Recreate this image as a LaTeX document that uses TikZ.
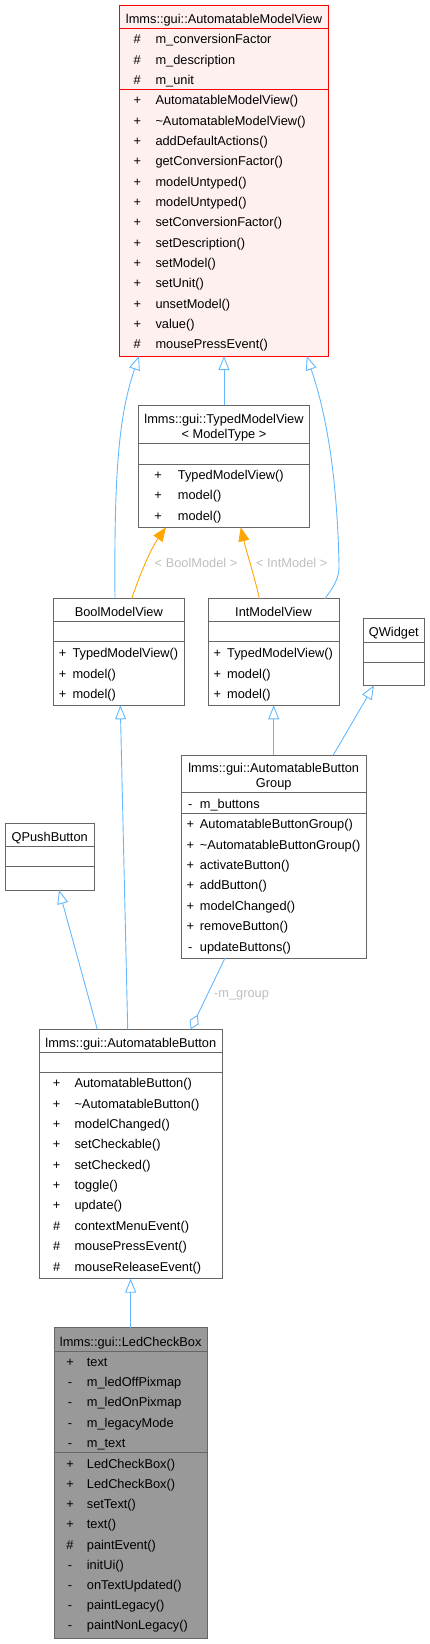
\documentclass[tikz,border=0pt]{standalone}
\usepackage{fontspec}
\setmainfont{Liberation Sans}
\usetikzlibrary{arrows.meta,calc}
\definecolor{boxgray}{HTML}{666666}
\definecolor{edgeblue}{HTML}{63B8FF}
\definecolor{edgeorange}{HTML}{FFA500}
\definecolor{lblgray}{HTML}{BEBEBE}
\definecolor{amvfill}{HTML}{FFF0F0}
\definecolor{lcbfill}{HTML}{999999}
\newcommand\memrows[6]{%
  \foreach \ms/\mt [count=\mi] in {#6} {%
    \node[sgn] (#1s\mi) at ({#2},{#4+#5*(\mi-1)+4.4}) {\ms};
    \node[mem] (#1t\mi) at ({#3},{#4+#5*(\mi-1)+4.4}) {\mt};
  }%
}
\begin{document}
\begin{tikzpicture}[x=1pt,y=-1pt,font=\fontsize{12.8}{15}\selectfont,
  cls/.style={draw=boxgray,line width=1pt,fill=white,anchor=north west,inner sep=0,outer sep=0},
  sepl/.style={draw=boxgray,line width=1pt},
  sgn/.style={anchor=base,inner sep=0},
  mem/.style={anchor=base west,inner sep=0},
  ttl/.style={anchor=base,inner sep=0},
  inh/.style={draw=edgeblue,line width=0.9pt,-{Triangle[open,length=14pt,width=11pt]}},
  tpl/.style={draw=edgeorange,line width=0.9pt,-{Triangle[length=14pt,width=11pt]}},
  agg/.style={draw=edgeblue,line width=0.9pt,-{Diamond[open,length=16pt,width=10pt]}},
  lbl/.style={text=lblgray,inner sep=0}]
\useasboundingbox (0,0) rectangle (429,1644);

% ---------- AutomatableModelView ----------
\node[cls,draw=red,fill=amvfill,minimum width=209.4pt,minimum height=351pt] (amv) at (119.3,5) {};
\draw[draw=red,line width=1pt] ($(amv.north west)+(0,23.7)$) -- ($(amv.north east)+(0,23.7)$);
\draw[draw=red,line width=1pt] ($(amv.north west)+(0,84.3)$) -- ($(amv.north east)+(0,84.3)$);
\node[ttl] (amvtitle) at (224,23.1) {lmms::gui::AutomatableModelView};
\memrows{amva}{137.3}{155.3}{39.3}{20.3}{\#/m\_conversionFactor,\#/m\_description,\#/m\_unit}
\memrows{amvm}{137.3}{155.3}{100.3}{20.33}{+/AutomatableModelView(),+/\textasciitilde AutomatableModelView(),+/addDefaultActions(),+/getConversionFactor(),+/modelUntyped(),+/modelUntyped(),+/setConversionFactor(),+/setDescription(),+/setModel(),+/setUnit(),+/unsetModel(),+/value(),\#/mousePressEvent()}

% ---------- TypedModelView ----------
\node[cls,minimum width=170.6pt,minimum height=122pt] (tmv) at (138.7,405.3) {};
\draw[sepl] ($(tmv.north west)+(0,38)$) -- ($(tmv.north east)+(0,38)$);
\draw[sepl] ($(tmv.north west)+(0,58.7)$) -- ($(tmv.north east)+(0,58.7)$);
\node[ttl] (tmvtitle1) at (224,423.7) {lmms::gui::TypedModelView};
\node[ttl] (tmvtitle2) at (224,438.7) {< ModelType >};
\memrows{tmvm}{158}{177.7}{475}{20.5}{+/TypedModelView(),+/model(),+/model()}

% ---------- BoolModelView ----------
\node[cls,minimum width=131pt,minimum height=106.6pt] (bmv) at (53.3,598.7) {};
\draw[sepl] ($(bmv.north west)+(0,22.6)$) -- ($(bmv.north east)+(0,22.6)$);
\draw[sepl] ($(bmv.north west)+(0,43)$) -- ($(bmv.north east)+(0,43)$);
\node[ttl] (bmvtitle) at (118.8,616.1) {BoolModelView};
\memrows{bmvm}{62.7}{72.3}{653.3}{20.35}{+/TypedModelView(),+/model(),+/model()}

% ---------- IntModelView ----------
\node[cls,minimum width=131pt,minimum height=106.6pt] (imv) at (208,598.7) {};
\draw[sepl] ($(imv.north west)+(0,22.6)$) -- ($(imv.north east)+(0,22.6)$);
\draw[sepl] ($(imv.north west)+(0,43)$) -- ($(imv.north east)+(0,43)$);
\node[ttl] (imvtitle) at (273.5,616.1) {IntModelView};
\memrows{imvm}{217.3}{227}{653.3}{20.35}{+/TypedModelView(),+/model(),+/model()}

% ---------- QWidget ----------
\node[cls,minimum width=61pt,minimum height=66.6pt] (qw) at (363.3,618.7) {};
\draw[sepl] ($(qw.north west)+(0,23.6)$) -- ($(qw.north east)+(0,23.6)$);
\draw[sepl] ($(qw.north west)+(0,43.6)$) -- ($(qw.north east)+(0,43.6)$);
\node[ttl] (qwtitle) at (393.8,636.7) {QWidget};

% ---------- AutomatableButtonGroup ----------
\node[cls,minimum width=185.3pt,minimum height=203pt] (abg) at (181,755) {};
\draw[sepl] ($(abg.north west)+(0,37.7)$) -- ($(abg.north east)+(0,37.7)$);
\draw[sepl] ($(abg.north west)+(0,58.3)$) -- ($(abg.north east)+(0,58.3)$);
\node[ttl] (abgtitle1) at (273.7,772.7) {lmms::gui::AutomatableButton};
\node[ttl] (abgtitle2) at (273.7,787.7) {Group};
\memrows{abga}{190.3}{199.7}{803.7}{20.4}{-/m\_buttons}
\memrows{abgm}{190.3}{199.7}{824.3}{20.4}{+/AutomatableButtonGroup(),+/\textasciitilde AutomatableButtonGroup(),+/activateButton(),+/addButton(),+/modelChanged(),+/removeButton(),-/updateButtons()}

% ---------- QPushButton ----------
\node[cls,minimum width=89.3pt,minimum height=66.7pt] (qpb) at (5,823.3) {};
\draw[sepl] ($(qpb.north west)+(0,23.4)$) -- ($(qpb.north east)+(0,23.4)$);
\draw[sepl] ($(qpb.north west)+(0,43.4)$) -- ($(qpb.north east)+(0,43.4)$);
\node[ttl] (qpbtitle) at (49.7,841.1) {QPushButton};

% ---------- AutomatableButton ----------
\node[cls,minimum width=183pt,minimum height=249.4pt] (ab) at (39.3,1029.3) {};
\draw[sepl] ($(ab.north west)+(0,23)$) -- ($(ab.north east)+(0,23)$);
\draw[sepl] ($(ab.north west)+(0,43)$) -- ($(ab.north east)+(0,43)$);
\node[ttl] (abtitle) at (130.8,1047.1) {lmms::gui::AutomatableButton};
\memrows{abm}{56.7}{74.3}{1083.3}{20.37}{+/AutomatableButton(),+/\textasciitilde AutomatableButton(),+/modelChanged(),+/setCheckable(),+/setChecked(),+/toggle(),+/update(),\#/contextMenuEvent(),\#/mousePressEvent(),\#/mouseReleaseEvent()}

% ---------- LedCheckBox ----------
\node[cls,fill=lcbfill,minimum width=153.3pt,minimum height=310.6pt] (lcb) at (54,1327.7) {};
\draw[sepl] ($(lcb.north west)+(0,23.3)$) -- ($(lcb.north east)+(0,23.3)$);
\draw[sepl] ($(lcb.north west)+(0,125)$) -- ($(lcb.north east)+(0,125)$);
\node[ttl] (lcbtitle) at (130.7,1346.1) {lmms::gui::LedCheckBox};
\memrows{lcba}{70}{86.7}{1361.7}{20.4}{+/text,-/m\_ledOffPixmap,-/m\_ledOnPixmap,-/m\_legacyMode,-/m\_text}
\memrows{lcbm}{70}{86.7}{1464.3}{20.09}{+/LedCheckBox(),+/LedCheckBox(),+/setText(),+/text(),\#/paintEvent(),-/initUi(),-/onTextUpdated(),-/paintLegacy(),-/paintNonLegacy()}

% ---------- connectors ----------
\draw[inh] ($(bmv.north west)+(61.7,0)$) .. controls (114,470) and (119,415) .. ($(amv.south west)+(19.7,0)$);
\draw[inh] (tmv.north) -- (amv.south);
\draw[inh] ($(imv.north west)+(117,0)$) .. controls (334,586) and (339.5,578) .. (339,565) .. controls (337,470) and (325,410) .. ($(amv.south west)+(187.4,0)$);
\draw[tpl] ($(bmv.north west)+(78.4,0)$) .. controls (139,577) and (150,550) .. ($(tmv.south west)+(27.3,0)$);
\node[lbl] (lblbool) at (196,563.3) {< BoolModel >};
\draw[tpl] ($(imv.north west)+(51.5,0)$) .. controls (254,575) and (246,550) .. ($(tmv.south west)+(102,0)$);
\node[lbl] (lblint) at (291.7,563.3) {< IntModel >};
\draw[inh] ($(abg.north west)+(92.7,0)$) -- ($(imv.south west)+(65.7,0)$);
\draw[inh] ($(abg.north west)+(152.3,0)$) -- ($(qw.south west)+(10.7,0)$);
\draw[inh] ($(ab.north west)+(88.4,0)$) -- ($(bmv.south west)+(67,0)$);
\draw[inh] ($(ab.north west)+(58,0)$) -- ($(qpb.south west)+(54,0)$);
\draw[agg] ($(abg.south west)+(44,0)$) -- ($(ab.north west)+(151.4,0)$);
\node[lbl] (lblgroup) at (241.5,995) {-m\_group};
\draw[inh] (lcb.north) -- (lcb.north |- ab.south);
\end{tikzpicture}
\end{document}
